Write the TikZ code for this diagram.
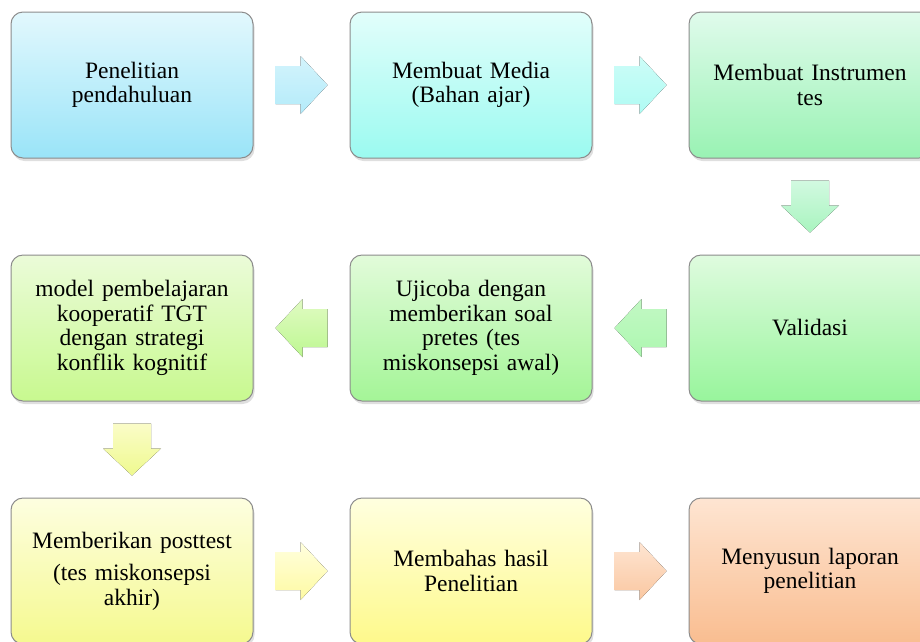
\documentclass[tikz,border=0pt]{standalone}
\usepackage{fontspec}
\setmainfont{Liberation Serif}
\usetikzlibrary{positioning}
\usetikzlibrary{shadows}
\definecolor{cyanTop}{HTML}{E2F8FD}
\definecolor{cyanBot}{HTML}{9AE4F8}
\definecolor{aquaTop}{HTML}{E2FEFB}
\definecolor{aquaBot}{HTML}{9BFAF0}
\definecolor{mintTop}{HTML}{E0FBEC}
\definecolor{mintBot}{HTML}{99F2B3}
\definecolor{greenTop}{HTML}{DFFBDF}
\definecolor{greenBot}{HTML}{98F59C}
\definecolor{leafTop}{HTML}{E2FBDA}
\definecolor{leafBot}{HTML}{A4F597}
\definecolor{limeTop}{HTML}{EBFBD9}
\definecolor{limeBot}{HTML}{C8F98F}
\definecolor{yellowTop}{HTML}{FDFEE0}
\definecolor{yellowBot}{HTML}{F5F98F}
\definecolor{sunTop}{HTML}{FFFFDF}
\definecolor{sunBot}{HTML}{FEF98B}
\definecolor{peachTop}{HTML}{FEE5D2}
\definecolor{peachBot}{HTML}{F9BD90}
\tikzset{stage/.style={rectangle, rounded corners=12pt, draw=black!45, line width=1pt,
           minimum width=242pt, minimum height=146pt, text width=230pt, align=center,
           font=\fontsize{23.5}{24.5}\selectfont,
           drop shadow={shadow xshift=1.5pt, shadow yshift=-3pt, opacity=0.25}},
         }
% block arrow: position, rotation, top colour, bottom colour
\newcommand\flowarrow[4]{%
  \fill[top color=#3, bottom color=#4, shift={(#1)}, rotate=#2]
    (-26,-19) -- (-1,-19) -- (-1,-29) -- (26,0) -- (-1,29) -- (-1,19) -- (-26,19) -- cycle;}
\begin{document}
\begin{tikzpicture}[x=1pt, y=1pt]
\useasboundingbox (0,0) rectangle (920,-641);
\clip (0,0) rectangle (920,-641);
% first row
\node[stage, top color=cyanTop, bottom color=cyanBot] (pendahuluan) at (132,-85)
    {Penelitian\\pendahuluan};
\node[stage, top color=aquaTop, bottom color=aquaBot, right=96pt of pendahuluan] (media)
    {Membuat Media\\(Bahan ajar)};
\node[stage, top color=mintTop, bottom color=mintBot, right=96pt of media] (instrumen)
    {Membuat Instrumen\\tes};
% second row
\node[stage, top color=greenTop, bottom color=greenBot, below=96pt of instrumen] (validasi)
    {Validasi};
\node[stage, top color=leafTop, bottom color=leafBot, below=96pt of media] (ujicoba)
    {Ujicoba dengan\\memberikan soal\\pretes (tes\\miskonsepsi awal)};
\node[stage, top color=limeTop, bottom color=limeBot, below=96pt of pendahuluan] (model)
    {model pembelajaran\\kooperatif TGT\\dengan strategi\\konflik kognitif};
% third row
\node[stage, top color=yellowTop, bottom color=yellowBot, below=96pt of model] (posttest)
    {Memberikan posttest\\[8pt](tes miskonsepsi\\akhir)};
\node[stage, top color=sunTop, bottom color=sunBot, right=96pt of posttest] (hasil)
    {Membahas hasil\\Penelitian};
\node[stage, top color=peachTop, bottom color=peachBot, right=96pt of hasil] (laporan)
    {Menyusun laporan\\penelitian};
% arrows between the stages
\path (pendahuluan) -- coordinate (a1) (media);
\path (media) -- coordinate (a2) (instrumen);
\path (instrumen) -- coordinate (a3) (validasi);
\path (validasi) -- coordinate (a4) (ujicoba);
\path (ujicoba) -- coordinate (a5) (model);
\path (model) -- coordinate (a6) (posttest);
\path (posttest) -- coordinate (a7) (hasil);
\path (hasil) -- coordinate (a8) (laporan);
\flowarrow{a1}{0}{cyanTop!80!cyanBot}{cyanBot!75!white}
\flowarrow{a2}{0}{aquaTop!70!aquaBot}{aquaBot!80!white}
\flowarrow{a3}{-90}{mintTop!80!mintBot}{mintBot!85!white}
\flowarrow{a4}{180}{greenTop!60!greenBot}{greenBot!80!white}
\flowarrow{a5}{180}{limeTop!70!limeBot}{limeBot!70!leafBot}
\flowarrow{a6}{-90}{yellowTop!70!yellowBot}{yellowBot!85!limeBot}
\flowarrow{a7}{0}{sunTop}{sunBot!80!white}
\flowarrow{a8}{0}{peachTop}{peachBot!85!white}
\end{tikzpicture}
\end{document}
